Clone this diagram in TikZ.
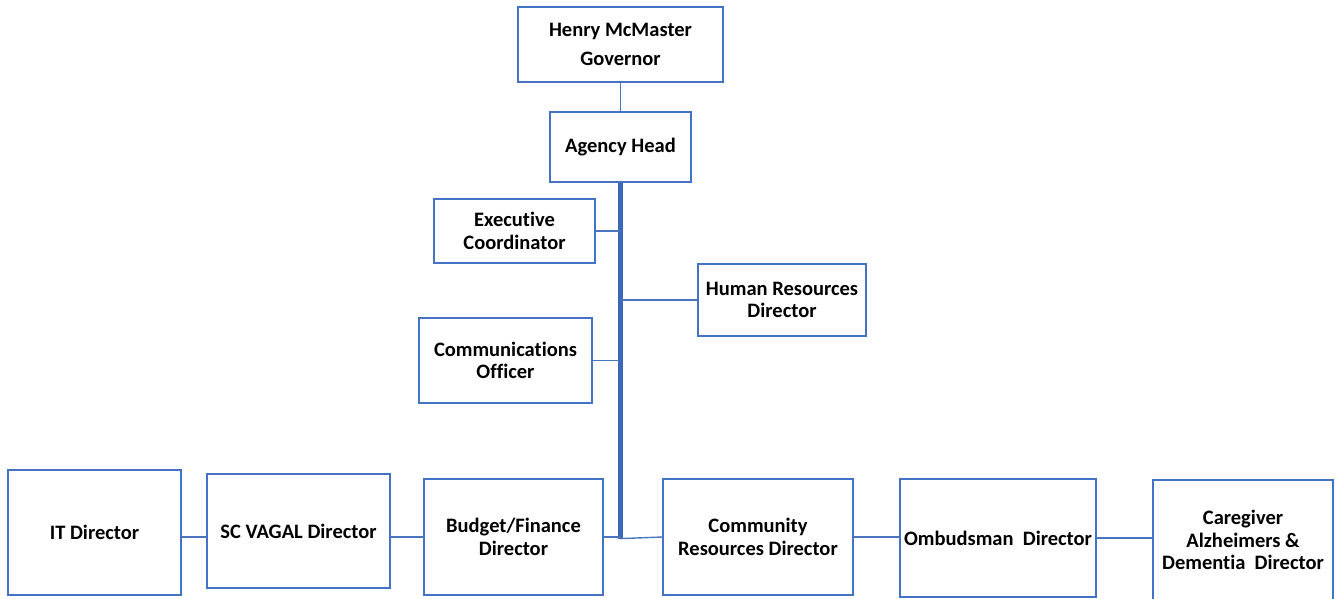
\documentclass[tikz,border=0pt]{standalone}
\usepackage{fontspec}
\setmainfont{Carlito}[Ligatures=NoCommon]
\usepackage{tikz}
\usepackage{xcolor}
\usetikzlibrary{positioning,calc}
\definecolor{boxblue}{HTML}{4472C4}
\definecolor{linkblue}{HTML}{4A74C0}
\definecolor{trunkblue}{HTML}{3C66B8}
\tikzset{
  orgbox/.style={draw=boxblue,fill=white,line width=1.2pt,
                 align=center,inner sep=2pt,
                 font=\fontsize{20.5}{22.5}\selectfont\bfseries},
  linkline/.style={draw=linkblue,line width=1.4pt},
  trunkline/.style={draw=trunkblue,line width=4.2pt}
}

\begin{document}
\begin{tikzpicture}[x=1pt,y=-1pt]
  \useasboundingbox (0,0) rectangle (1338,598);
  \clip (0,0) rectangle (1338,598);
  % top of the chart
  \node[orgbox,minimum width=205pt,minimum height=75pt] (gov) at (620.5,44.5)
    {Henry McMaster\\[7pt]Governor};
  \node[orgbox,minimum width=141pt,minimum height=70pt] (head) at (620.5,147)
    {Agency Head};
  % staff around the trunk
  \node[orgbox,minimum width=161pt,minimum height=64pt] (exec) at (514.5,231)
    {Executive\\Coordinator};
  \node[orgbox,minimum width=168pt,minimum height=72pt] (hr) at (782,300)
    {Human Resources\\Director};
  \node[orgbox,minimum width=173pt,minimum height=85pt] (comms) at (505.5,360.5)
    {Communications\\Officer};
  % bottom row
  \node[orgbox,minimum width=173pt,minimum height=125pt] (it) at (94.5,532.5)
    {IT Director};
  \node[orgbox,minimum width=183pt,minimum height=114pt] (vagal) at (298.5,531)
    {SC VAGAL Director};
  \node[orgbox,minimum width=179pt,minimum height=116pt] (budget) at (513.5,537)
    {Budget/Finance\\Director};
  \node[orgbox,minimum width=190pt,minimum height=116pt] (community) at (758,537)
    {Community\\Resources Director};
  \node[orgbox,minimum width=196pt,minimum height=118pt] (ombud) at (998,538)
    {Ombudsman~~Director};
  \node[orgbox,minimum width=180pt,minimum height=120pt] (care) at (1243,540)
    {Caregiver\\Alzheimers \&\\Dementia~~Director};
  \coordinate (trunkend) at ($(head.south)+(0,356)$);

  \draw[linkline] (gov.south) -- (head.north);
  \draw[trunkline] (head.south) -- (trunkend);
  \draw[linkline] (exec.east) -- (exec.east -| head.south);
  \draw[linkline] (hr.west) -- (hr.west -| head.south);
  \draw[linkline] (comms.east) -- (comms.east -| head.south);
  \draw[linkline] (budget.east) -- (budget.east -| trunkend);
  \draw[linkline] (trunkend) -- (community.west);
  \draw[linkline] (budget.west) -- (budget.west -| vagal.east);
  \draw[linkline] (vagal.west |- budget.west) -- (it.east |- budget.west);
  \draw[linkline,line width=2.2pt] (community.east) -- (community.east -| ombud.west);
  \draw[linkline] (ombud.east) -- (ombud.east -| care.west);
\end{tikzpicture}
\end{document}
